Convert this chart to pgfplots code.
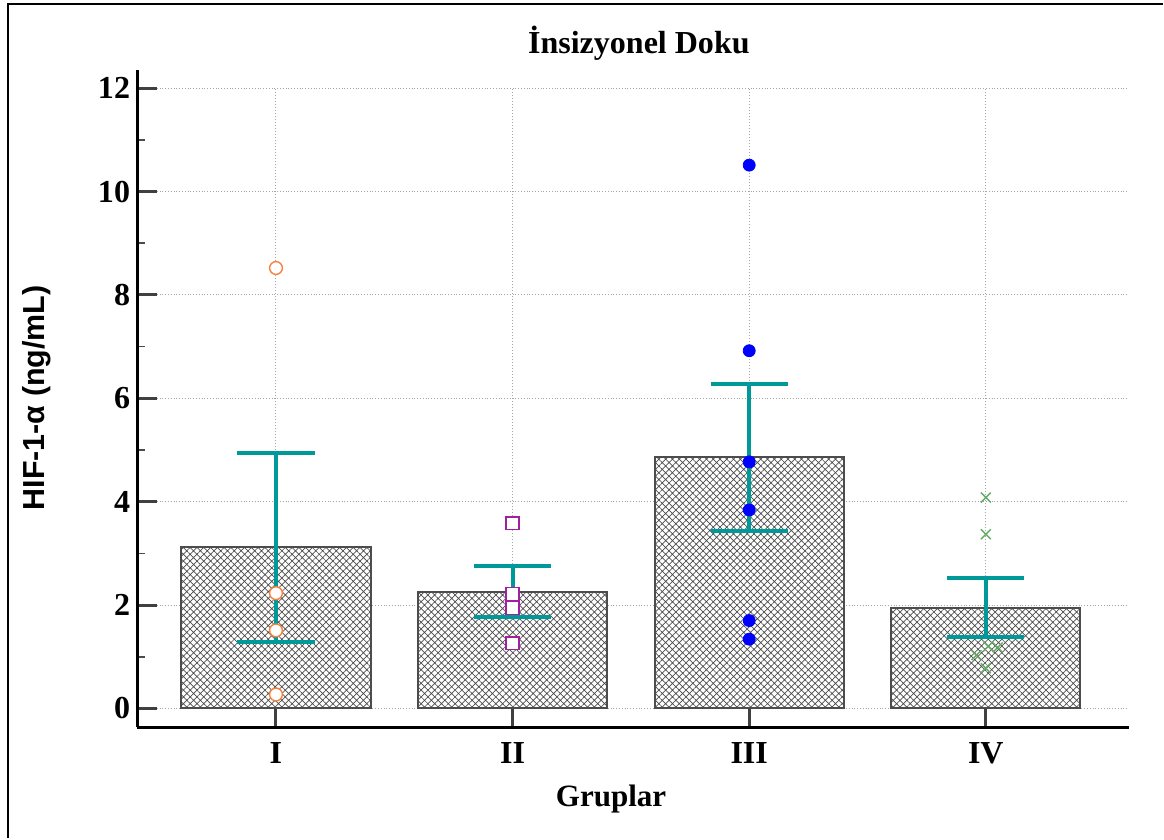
\documentclass[border=0pt]{standalone}
\usepackage{fontspec}
\setmainfont{Liberation Serif}
\newfontfamily\arialfont{Liberation Sans}
\usepackage{pgfplots}
\pgfplotsset{compat=1.18}
\usetikzlibrary{patterns.meta}

\definecolor{errteal}{RGB}{0,153,153}
\definecolor{ptorange}{RGB}{250,128,60}
\definecolor{ptpurple}{RGB}{160,32,160}
\definecolor{ptblue}{RGB}{0,0,255}
\definecolor{ptgreen}{RGB}{100,170,100}

\begin{document}
\begin{tikzpicture}
\begin{axis}[
    name=ax,
    scale only axis,
    width=495.5pt, height=328.5pt,
    xmin=0.413, xmax=4.604,
    ymin=-0.368, ymax=12.35,
    axis lines*=left,
    axis line style={line width=1.5pt, black},
    xtick={1,2,3,4},
    xticklabels={I,II,III,IV},
    ytick={0,2,...,12},
    minor y tick num=1,
    tick align=inside,
    major tick length=10pt,
    minor tick length=4pt,
    every major tick/.append style={black!75, line width=1.5pt},
    every minor tick/.append style={black!70, line width=0.8pt},
    ymajorgrids,
    grid style={densely dotted, black!35, line width=0.5pt},
    tick label style={font=\fontsize{16}{16}\selectfont\bfseries},
    /pgf/number format/assume math mode=true,
    xticklabel style={anchor=center, yshift=-13pt},
    title={İnsizyonel Doku},
    title style={at={(axis description cs:0.506,1.023)}, anchor=center,
        font=\fontsize{16}{16}\selectfont\bfseries},
    xlabel={Gruplar},
    xlabel style={at={(axis description cs:0.478,-0.1096)}, anchor=center,
        font=\fontsize{15.5}{15.5}\selectfont\bfseries},
    ylabel={HIF-1-α (ng/mL)},
    ylabel style={at={(axis description cs:-0.101,0.5015)}, anchor=center,
        font=\arialfont\fontsize{15.2}{15.2}\selectfont\bfseries},
    clip=false,
]
% vertical grid lines, only over 0..12
\addplot[forget plot, densely dotted, black!35, line width=0.5pt] coordinates {(1,0) (1,12)};
\addplot[forget plot, densely dotted, black!35, line width=0.5pt] coordinates {(2,0) (2,12)};
\addplot[forget plot, densely dotted, black!35, line width=0.5pt] coordinates {(3,0) (3,12)};
\addplot[forget plot, densely dotted, black!35, line width=0.5pt] coordinates {(4,0) (4,12)};

% mean bars with error bars
\addplot[ybar, bar width=0.8, draw=black!70, line width=1pt, fill=white,
    postaction={pattern={Hatch[angle=45,distance=2.4pt,line width=0.35pt]}, pattern color=black!70},
    error bars/.cd, y dir=both, y explicit,
    error bar style={errteal, line width=2pt},
    error mark options={errteal, rotate=90, mark size=19.25pt, line width=2pt}]
coordinates {
    (1,3.12) +- (0,1.83)
    (2,2.26) +- (0,0.49)
    (3,4.86) +- (0,1.42)
    (4,1.95) +- (0,0.57)
};

% individual values
\addplot[only marks, mark=*, mark size=3.2pt, draw=ptorange, fill=white, line width=0.7pt]
coordinates {(1,8.52) (1,2.23) (1,1.51) (1,0.27)};
\addplot[only marks, mark=square*, mark size=3.2pt, draw=ptpurple, fill=white, line width=0.7pt]
coordinates {(2,3.58) (2,2.21) (2,1.94) (2,1.26)};
\addplot[only marks, mark=*, mark size=3pt, draw=ptblue, fill=ptblue]
coordinates {(3,10.51) (3,6.92) (3,4.77) (3,3.84) (3,1.70) (3,1.34)};
\addplot[only marks, mark=x, mark size=3.5pt, draw=ptgreen, line width=0.7pt]
coordinates {(4,4.08) (4,3.37) (4.01,1.20) (4.05,1.18) (3.96,1.03) (4,0.78)};
\end{axis}
\pgfresetboundingbox
\path ([xshift=-68.5pt,yshift=-56pt]ax.south west) rectangle ([xshift=17.5pt,yshift=35pt]ax.north east);
\draw[line width=1.25pt] ([xshift=-64.5pt,yshift=-55pt]ax.south west) -- ([xshift=-64.5pt,yshift=33pt]ax.north west) -- ([xshift=17pt,yshift=33pt]ax.north east);
\end{tikzpicture}
\end{document}
